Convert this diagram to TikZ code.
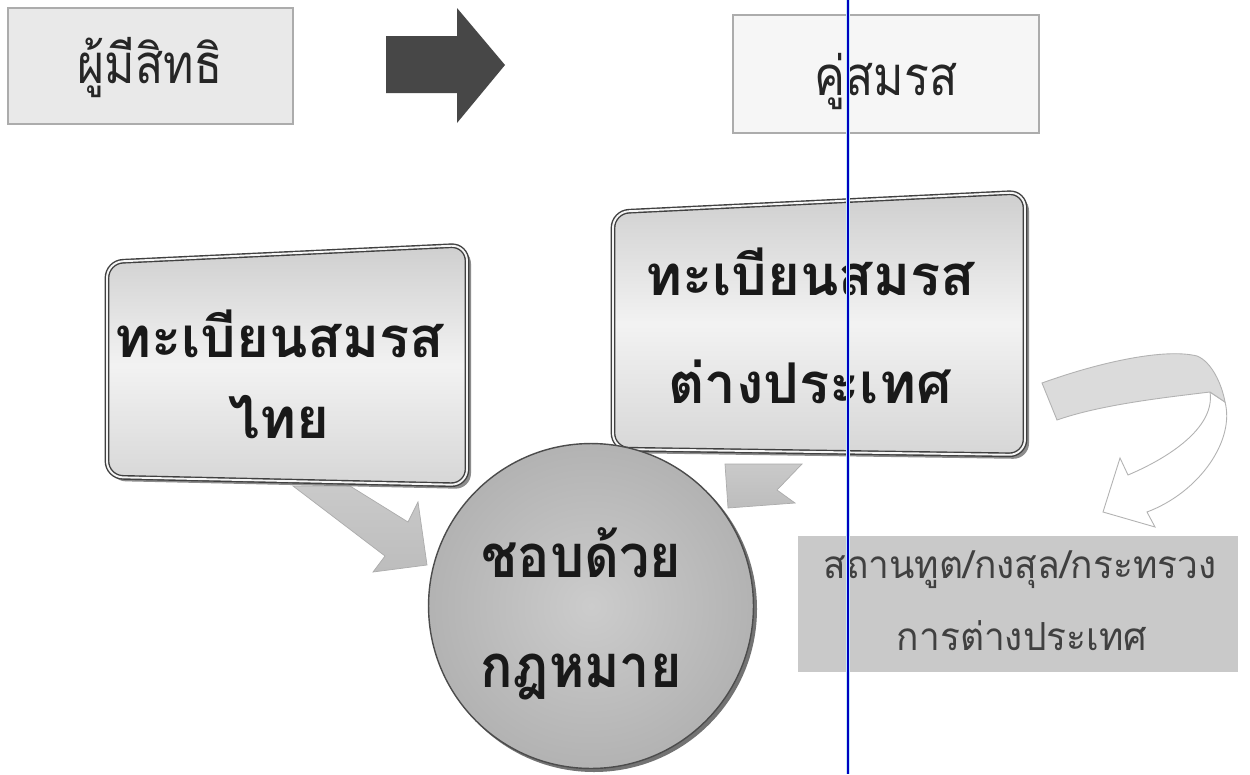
\documentclass[tikz,border=0pt]{standalone}
\usepackage{fontspec}
\newfontfamily\thai[Script=Thai]{Loma}
\newfontfamily\thaiT[Script=Thai,FakeStretch=0.85]{Loma}
\newfontfamily\thaiC[Script=Thai,FakeStretch=0.9]{Loma}
\newfontfamily\thaiS[Script=Thai,FakeStretch=0.96]{Loma}
\begin{document}
\begin{tikzpicture}[x=0.02cm,y=-0.02cm,
  toptxt/.style={font=\thaiT\fontsize{31}{36}\selectfont, inner sep=0pt, text=black!85, anchor=base},
  boxtxt/.style={font=\thai\bfseries\fontsize{32}{38}\selectfont, inner sep=0pt, text=black!90, anchor=base},
  lawtxt/.style={font=\thaiC\bfseries\fontsize{34}{40}\selectfont, inner sep=0pt, text=black!90, anchor=base},
  smalltxt/.style={font=\thaiS\fontsize{22}{26}\selectfont, inner sep=0pt, text=black!75, anchor=base},
  flatbox/.style={draw=gray!65, line width=0.7pt},
  silver/.style={top color=gray!38, bottom color=gray!32, middle color=gray!10, draw=black!75, line width=0.8pt, double=gray!8, double distance=1.1pt, rounded corners=9pt},
  shadowbox/.style={fill=black!45, rounded corners=9pt},
  grayarrow/.style={top color=gray!42, bottom color=gray!52, draw=gray!65, line width=0.4pt},
  darkarrow/.style={fill=black!72},
  outline/.style={fill=white, draw=gray!60, line width=0.5pt}
]
\useasboundingbox[fill=white] (0,0) rectangle (1250,774);

% top boxes
\path[flatbox, fill=gray!17] (8,8) rectangle (293,124);
\node[toptxt] (who) at (150,83) {ผู้มีสิทธิ};
\path[darkarrow] (386,36) -- (457,36) -- (457,8) -- (505,65) -- (457,123) -- (457,93) -- (386,93) -- cycle;
\path[flatbox, fill=gray!7] (733,15) rectangle (1039,133);
\node[toptxt] (spouse) at (886,95) {คู่สมรส};

% arrow from left box to circle
\path[grayarrow] (293,486) -- (350,486) -- (408,522) -- (418,502) -- (427,565) -- (373,572) -- (385,556) -- cycle;

% left rounded box
\path[shadowbox] (110,265) -- (471,248) -- (471,489) -- (110,481) -- cycle;
\path[silver] (107,262) -- (467,245) -- (467,485) -- (107,477) -- cycle;
\node[boxtxt] (thai1) at (279,357) {ทะเบียนสมรส};
\node[boxtxt] (thai2) at (279,438) {ไทย};

% right rounded box
\path[shadowbox] (616,216) -- (1029,195) -- (1029,459) -- (616,453) -- cycle;
\path[silver] (613,212) -- (1025,192) -- (1025,455) -- (613,449) -- cycle;
\node[boxtxt] (for1) at (810,295) {ทะเบียนสมรส};
\node[boxtxt] (for2) at (810,403) {ต่างประเทศ};

% small arrow under right box
\path[grayarrow] (725,464) -- (802,464) -- (777,490) -- (795,503) -- (728,508) -- cycle;

% circle
\fill[black!55] (594,609) circle [radius=163];
\node[circle, minimum size=6.5cm, inner sep=0pt, inner color=gray!40, outer color=gray!60, draw=black!70, line width=0.8pt] (law) at (591,606) {};
\node[lawtxt] (law1) at (581,577) {ชอบด้วย};
\node[lawtxt] (law2) at (581,687) {กฎหมาย};

% curved ribbon arrow
\path[outline] (1225,402) .. controls (1235,440) and (1200,492) .. (1147,512)
  -- (1155,527) -- (1103,512) -- (1120,458) -- (1128,475)
  .. controls (1175,455) and (1215,425) .. (1210,392) -- cycle;
\path[fill=gray!28, draw=gray!60, line width=0.5pt] (1042,383) .. controls (1100,362) and (1165,348) .. (1197,356)
  .. controls (1212,362) and (1222,385) .. (1225,402) -- (1210,392)
  .. controls (1160,398) and (1100,405) .. (1057,420) -- cycle;

% bottom right box
\path[fill=gray!42] (798,536) rectangle (1238,672);
\node[smalltxt] (emb1) at (1020,578) {สถานทูต/กงสุล/กระทรวง};
\node[smalltxt] (emb2) at (1022,650) {การต่างประเทศ};

% vertical blue line
\draw[cyan!25, line width=2.6pt] (848,0) -- (848,774);
\draw[blue!75!black, line width=1.1pt] (848,0) -- (848,774);
\end{tikzpicture}
\end{document}
